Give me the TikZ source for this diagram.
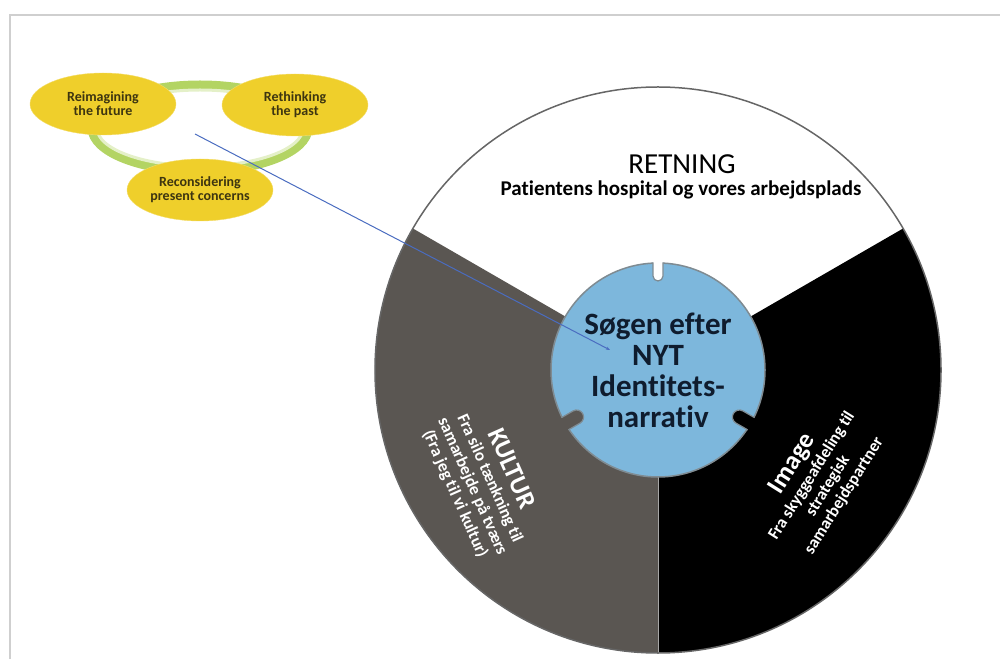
\documentclass[tikz,border=0pt]{standalone}
\usepackage{fontspec}
\setmainfont{Carlito}[Ligatures=NoCommon]
\usetikzlibrary{shapes.geometric, arrows.meta}
\usepackage[]{xcolor}
\definecolor{sunyellow}{HTML}{EFCF2B}
\definecolor{ringgreen}{HTML}{B3D463}
\definecolor{kulturgray}{HTML}{5A5652}
\definecolor{coreblue}{HTML}{7DB7DC}
\definecolor{inkblue}{HTML}{0F1C2E}
\definecolor{linkblue}{HTML}{4A6CC0}
\definecolor{framegray}{HTML}{CFCFCF}
\definecolor{olivetext}{HTML}{3D3510}
\tikzstyle{phase} = [ellipse, fill=sunyellow, draw=sunyellow!70!white, minimum width=146pt, minimum height=62pt, inner sep=0pt, align=center, text=olivetext, font=\fontsize{14}{14}\selectfont\bfseries]
\tikzstyle{sectortext} = [align=center, text=white, font=\fontsize{17}{19}\selectfont\bfseries]
\tikzset{
	hub/.style={circle, fill=coreblue, draw=gray!80!coreblue, line width=1.5pt, minimum size=214pt, inner sep=0pt, align=center, text=inkblue, font=\fontsize{31}{31}\selectfont\bfseries},
	notchedge/.style={draw=gray!80!coreblue, line width=1.2pt}
	}

\begin{document}
\begin{tikzpicture}[x=1pt, y=1pt]
	\useasboundingbox (0,0) rectangle (1000,659);
	% frame
	\draw[framegray, line width=2pt] (10,0) -- (10,644) -- (1000,644);
	
	% the three phases on a ring
	\draw[ringgreen, line width=9pt] (200,531) ellipse [x radius=108pt, y radius=43pt];
	\draw[ringgreen!35, line width=3pt] (200,531) ellipse [x radius=103pt, y radius=38pt];
	\node [phase] (future) at (103,555) {Reimagining\\the future};
	\node [phase] (past) at (295,554) {Rethinking\\the past};
	\node [phase] (present) at (200,469) {Reconsidering\\present concerns};
	
	% wheel
	\coordinate (wheel) at (658,289);
	\fill[white] (wheel) -- ++(30:283pt) arc[start angle=30, end angle=150, radius=283pt] -- cycle;
	\fill[kulturgray] (wheel) -- ++(150:283pt) arc[start angle=150, end angle=270, radius=283pt] -- cycle;
	\fill[black] (wheel) -- ++(-90:283pt) arc[start angle=-90, end angle=30, radius=283pt] -- cycle;
	\draw[gray!70, line width=1pt] (wheel) -- ++(-90:283pt);
	\draw[gray!80!black, line width=1.5pt] (wheel) circle[radius=283pt];
	
	\node [hub] (core) at (wheel) {Søgen efter\\NYT\\Identitets-\\narrativ};
	\foreach \a/\c/\w in {90/white/5, 210/kulturgray/7, 330/black/7}{
		\begin{scope}[shift={(wheel)}, rotate=\a]
			\fill[\c] (109,\w) -- (94,\w) arc[start angle=90, end angle=270, radius=\w pt] -- (109,-\w) -- cycle;
			\draw[notchedge] (107.5,\w) -- (94,\w) arc[start angle=90, end angle=270, radius=\w pt] -- (107.5,-\w);
		\end{scope}
	}
	
	\node (retning) at (682,495) {\fontsize{29}{29}\selectfont RETNING};
	\node[font=\fontsize{21}{21}\selectfont\bfseries] (retningsub) at (681,469) {Patientens hospital og vores arbejdsplads};
	\node [sectortext, rotate=-66] (kultur) at (484,178) {{\fontsize{26}{26}\selectfont KULTUR}\\[2pt]Fra silo tænkning til\\samarbejde på tværs\\(Fra jeg til vi kultur)};
	\node [sectortext, rotate=58] (image) at (817,180) {{\fontsize{26}{26}\selectfont Image}\\[2pt]Fra skyggeafdeling til\\strategisk\\samarbejdspartner};
	
	% pointer from the ring into the core
	\coordinate (pin) at (195,525);
	\coordinate (target) at (610,309);
	\draw[linkblue, line width=1pt, -{Stealth[length=4pt, width=3pt]}] (pin) -- (target);
\end{tikzpicture}
\end{document}
